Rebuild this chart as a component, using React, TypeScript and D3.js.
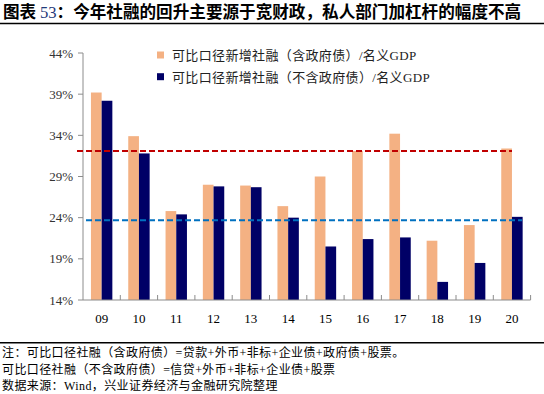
import React from "react";
import * as d3 from "d3";

const categories = ["09", "10", "11", "12", "13", "14", "15", "16", "17", "18", "19", "20"];
const withGov = [39.2, 33.9, 24.8, 28.0, 27.9, 25.4, 29.0, 32.1, 34.2, 21.2, 23.1, 32.4];
const withoutGov = [38.2, 31.8, 24.4, 27.8, 27.7, 24.0, 20.5, 21.4, 21.6, 16.2, 18.5, 24.1];
const yTicks = [14, 19, 24, 29, 34, 39, 44];
const refRed = 32.1;
const refBlue = 23.7;
const seriesNames = ["可比口径新增社融（含政府债）/名义GDP", "可比口径新增社融（不含政府债）/名义GDP"];
const footnotes = [
  "注：可比口径社融（含政府债）=贷款+外币+非标+企业债+政府债+股票。",
  "可比口径社融（不含政府债）=信贷+外币+非标+企业债+股票",
  "数据来源：Wind，兴业证券经济与金融研究院整理",
];

const W = 544;
const H = 394;
const ORANGE = "#F4B183";
const NAVY = "#000066";
const SERIF = "'Times New Roman', 'Liberation Serif', 'Noto Sans CJK SC', serif";
const CJK = "'Liberation Serif', 'Noto Sans CJK SC', sans-serif";

export default function App() {
  const x0 = 83;
  const x1 = 530.6;
  const x = d3.scaleBand<string>().domain(categories).range([x0, x1]).padding(0);
  const y = d3.scaleLinear().domain([14, 44]).range([300, 53]);
  const barW = 10.7;
  const axisColor = "#8c8c8c";

  return (
    <svg width={W} height={H} style={{ position: "absolute", left: 0, top: 0, background: "#fff" }}>
      {/* title */}
      <text x={3} y={17.5} fontFamily="'Noto Sans CJK SC', sans-serif" fontWeight="bold" fontSize={16.6} fill="#000">
        图表 <tspan fontFamily={SERIF} fontWeight="normal" fill="#1F3A7A">53</tspan>：今年社融的回升主要源于宽财政，私人部门加杠杆的幅度不高
      </text>
      <line x1={0} x2={W} y1={23.5} y2={23.5} stroke="#000" strokeWidth={1.5} />

      {/* y axis */}
      <line x1={x0} x2={x0} y1={y(44)} y2={y(14)} stroke={axisColor} strokeWidth={1} />
      {yTicks.map((t) => (
        <g key={t}>
          <line x1={x0 - 5} x2={x0} y1={y(t)} y2={y(t)} stroke={axisColor} />
          <text x={73} y={y(t) + 4.5} textAnchor="end" fontFamily={SERIF} fontSize={13} fill="#333">
            {t}%
          </text>
        </g>
      ))}

      {/* bars */}
      {categories.map((c, i) => {
        const cx = (x(c) as number) + x.bandwidth() / 2;
        return (
          <g key={c}>
            <rect x={cx - barW} y={y(withGov[i])} width={barW} height={y(14) - y(withGov[i])} fill={ORANGE} />
            <rect x={cx} y={y(withoutGov[i])} width={barW} height={y(14) - y(withoutGov[i])} fill={NAVY} />
          </g>
        );
      })}

      {/* x axis */}
      <line x1={x0} x2={x1} y1={y(14)} y2={y(14)} stroke={axisColor} strokeWidth={1} />
      {categories.map((c) => (
        <line key={"t" + c} x1={(x(c) as number) + x.bandwidth()} x2={(x(c) as number) + x.bandwidth()} y1={y(14) - 5} y2={y(14)} stroke={axisColor} />
      ))}
      {categories.map((c) => (
        <text key={"l" + c} x={(x(c) as number) + x.bandwidth() / 2} y={323} textAnchor="middle" fontFamily={SERIF} fontSize={13} fill="#000">
          {c}
        </text>
      ))}

      {/* reference lines */}
      <line x1={77} x2={512} y1={y(refRed)} y2={y(refRed)} stroke="#C00000" strokeWidth={2} strokeDasharray="6,3" />
      <line x1={86} x2={522} y1={y(refBlue)} y2={y(refBlue)} stroke="#0070C0" strokeWidth={2} strokeDasharray="6,3" />

      {/* legend */}
      {seriesNames.map((n, i) => (
        <g key={n}>
          <rect x={157} y={51.5 + i * 21.7} width={7} height={7} fill={i === 0 ? ORANGE : NAVY} />
          <text x={172} y={60 + i * 21.7} fontFamily={CJK} fontSize={13} letterSpacing={0.35} fill="#222">
            {n}
          </text>
        </g>
      ))}

      {/* footer */}
      <line x1={0} x2={W} y1={342.8} y2={342.8} stroke="#000" strokeWidth={1.5} />
      {footnotes.map((f, i) => (
        <text key={i} x={2} y={357 + i * 16.5} fontFamily={CJK} fontSize={12} letterSpacing={0.4} fill="#000">
          {f}
        </text>
      ))}
    </svg>
  );
}
